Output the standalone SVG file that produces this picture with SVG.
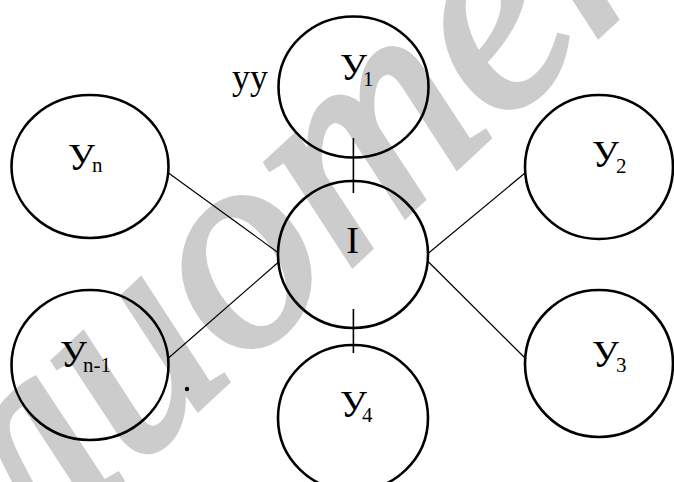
<svg xmlns="http://www.w3.org/2000/svg" width="674" height="482" viewBox="0 0 674 482">
<style>
.node{fill:none;stroke:#000;stroke-width:2.6}
.edge{stroke:#000;stroke-width:1.2;fill:none}
.tick{stroke:#000;stroke-width:1.6;fill:none}
.lbl{font-family:"Liberation Serif","Times New Roman",serif;font-size:38px;fill:#000}
.sub{font-size:21px}
.wm{font-family:"Liberation Serif","Times New Roman",serif;font-style:italic;font-size:290px;fill:#cccccc;stroke:#cccccc;stroke-width:6}
</style>
<rect width="674" height="482" fill="#fff"/>
<g id="watermark" transform="translate(268,256) rotate(-43)">
<text class="wm" x="-800" y="64">библиотека</text>
</g>
<g id="connectors">
<line class="edge" x1="168.5" y1="173" x2="278.6" y2="253"/>
<line class="edge" x1="168.5" y1="358" x2="278.6" y2="262"/>
<line class="edge" x1="525" y1="173" x2="428.6" y2="253"/>
<line class="edge" x1="525" y1="358" x2="428.6" y2="262"/>
<line class="tick" x1="353.4" y1="138" x2="353.4" y2="193"/>
<line class="tick" x1="353.4" y1="309" x2="353.4" y2="353"/>
</g>
<g id="node-y1">
<ellipse class="node" cx="353.5" cy="87" rx="75" ry="70.5"/>
<text class="lbl"><tspan x="340" y="80">У</tspan><tspan class="sub" x="363" y="86">1</tspan></text>
</g>
<g id="label-yy">
<text class="lbl" style="font-size:36px" x="232" y="89">уу</text>
</g>
<g id="node-yn">
<ellipse class="node" cx="90" cy="166.5" rx="78.5" ry="71.5"/>
<text class="lbl"><tspan x="68" y="170">У</tspan><tspan class="sub" x="92" y="172">n</tspan></text>
</g>
<g id="node-yn1">
<ellipse class="node" cx="90" cy="365" rx="78.5" ry="75"/>
<text class="lbl"><tspan x="60" y="367">У</tspan><tspan class="sub" x="83" y="372">n-1</tspan></text>
</g>
<g id="node-i">
<ellipse class="node" cx="353" cy="254.5" rx="75" ry="73.5"/>
<text class="lbl" x="352.5" y="253" text-anchor="middle">I</text>
</g>
<g id="node-y4">
<ellipse class="node" cx="353" cy="418" rx="75" ry="73"/>
<text class="lbl"><tspan x="340" y="417">У</tspan><tspan class="sub" x="362" y="422">4</tspan></text>
</g>
<g id="node-y2">
<ellipse class="node" cx="599" cy="167" rx="74" ry="72"/>
<text class="lbl"><tspan x="592" y="167">У</tspan><tspan class="sub" x="616" y="173">2</tspan></text>
</g>
<g id="node-y3">
<ellipse class="node" cx="599" cy="363.5" rx="74" ry="73.5"/>
<text class="lbl"><tspan x="592" y="367">У</tspan><tspan class="sub" x="616" y="372">3</tspan></text>
</g>
<g id="dot">
<circle cx="187" cy="389" r="2.2" fill="#000"/>
</g>
</svg>
